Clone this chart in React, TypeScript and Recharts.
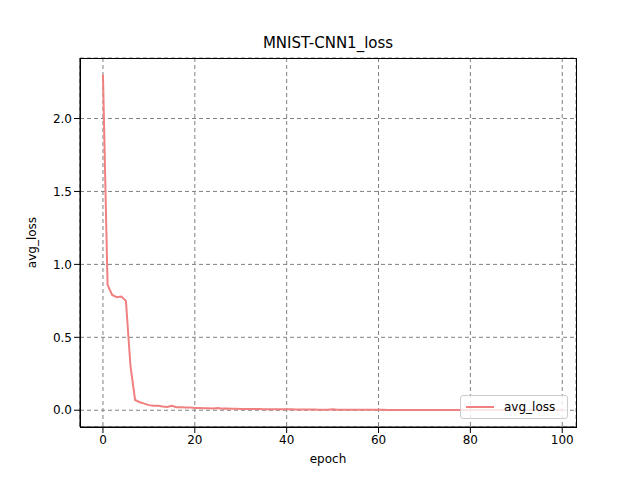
import { CartesianGrid, Line, LineChart, XAxis, YAxis, Label } from "recharts";

const headLoss = [2.3, 0.86, 0.79, 0.775, 0.78, 0.75, 0.3, 0.07, 0.055, 0.045, 0.035, 0.03, 0.03, 0.025, 0.022, 0.03, 0.02, 0.02, 0.018, 0.018, 0.016];
const tailLoss = [
  0.015, 0.014, 0.013, 0.012, 0.016, 0.011, 0.012, 0.01, 0.01, 0.009,
  0.009, 0.008, 0.008, 0.008, 0.007, 0.007, 0.007, 0.006, 0.006, 0.006,
  0.006, 0.005, 0.005, 0.005, 0.005, 0.005, 0.004, 0.004, 0.004, 0.006,
  0.004, 0.004, 0.003, 0.003, 0.003, 0.003, 0.003, 0.003, 0.003, 0.003,
  0.003, 0.002, 0.002, 0.002, 0.002, 0.002, 0.002, 0.002, 0.002, 0.002,
  0.002, 0.002, 0.002, 0.002, 0.002, 0.001, 0.001, 0.001, 0.001, 0.001,
  0.001, 0.001, 0.001, 0.001, 0.001, 0.001, 0.001, 0.001, 0.001, 0.001,
  0.001, 0.001, 0.001, 0.001, 0.001, 0.001, 0.001, 0.001, 0.001, 0.001,
];
const losses = [...headLoss, ...tailLoss];
const xTicks = [0, 20, 40, 60, 80, 100];
const yTicks = [0, 0.5, 1, 1.5, 2];

const data = losses.map((v, i) => ({ epoch: i, avg_loss: v }));

export default function App() {
  return (
    <div style={{ width: 640, height: 480, position: "relative", fontFamily: "DejaVu Sans", background: "#fff", margin: -8 }}>
      <div style={{ position: "absolute", top: 34, left: 80, width: 496, textAlign: "center", fontSize: 15 }}>
        MNIST-CNN1_loss
      </div>
      <LineChart width={640} height={480} data={data} margin={{ top: 58, right: 64, bottom: 13, left: 20 }}>
        <CartesianGrid stroke="#808080" strokeDasharray="4 3" />
        <XAxis
          dataKey="epoch"
          type="number"
          domain={[-5, 103]}
          ticks={xTicks}
          tick={{ fill: "#000", fontSize: 12 }}
          tickLine={{ stroke: "#000" }}
          axisLine={{ stroke: "#000" }}
          height={40}
        >
          <Label value="epoch" position="insideBottom" offset={4} fill="#000" fontSize={12} />
        </XAxis>
        <YAxis
          type="number"
          domain={[-0.115, 2.415]}
          ticks={yTicks}
          tickFormatter={(v: number) => v.toFixed(1)}
          tick={{ fill: "#000", fontSize: 12 }}
          tickLine={{ stroke: "#000" }}
          axisLine={{ stroke: "#000" }}
          width={60}
        >
          <Label value="avg_loss" angle={-90} position="insideLeft" offset={12} fill="#000" fontSize={12} style={{ textAnchor: "middle" }} />
        </YAxis>
        <Line type="linear" dataKey="avg_loss" stroke="#f08080" strokeWidth={2} dot={false} isAnimationActive={false} />
      </LineChart>
      <div style={{ position: "absolute", left: 80, top: 58, width: 495, height: 368, border: "1px solid #000", pointerEvents: "none" }} />
      <div style={{ position: "absolute", left: 460, top: 395, width: 108, height: 24, boxSizing: "border-box", background: "rgba(255,255,255,0.8)", border: "1px solid #ccc", borderRadius: 3, display: "flex", alignItems: "center", fontSize: 12 }}>
        <span style={{ display: "inline-block", width: 28, height: 2, background: "#f08080", marginLeft: 5, marginRight: 10 }} />
        avg_loss
      </div>
    </div>
  );
}
